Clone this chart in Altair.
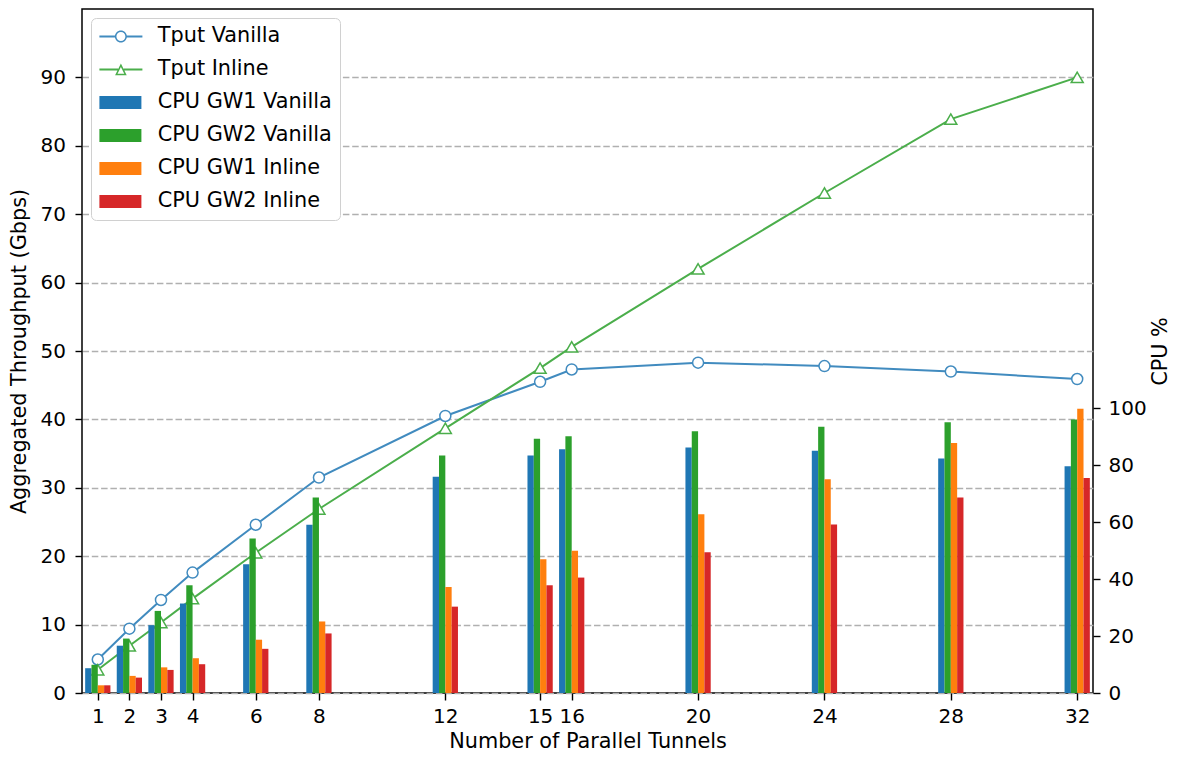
import altair as alt
import pandas as pd

# ---- data ----
tunnels = [1, 2, 3, 4, 6, 8, 12, 15, 16, 20, 24, 28, 32]
tput_vanilla = [4.9, 9.4, 13.6, 17.6, 24.6, 31.5, 40.5, 45.5, 47.3, 48.3, 47.8, 47.0, 45.9]
tput_inline = [3.4, 6.9, 10.3, 13.8, 20.5, 26.9, 38.7, 47.5, 50.6, 62.0, 73.1, 83.9, 90.0]
cpu_gw1_vanilla = [8.7, 16.6, 23.8, 31.4, 45.2, 59.0, 75.9, 83.3, 85.5, 86.1, 85.0, 82.3, 79.6]
cpu_gw2_vanilla = [9.9, 19.1, 28.8, 37.8, 54.2, 68.6, 83.3, 89.2, 90.1, 91.8, 93.4, 95.0, 96.0]
cpu_gw1_inline = [2.7, 6.0, 9.0, 12.2, 18.7, 25.1, 37.2, 46.9, 49.9, 62.7, 75.0, 87.7, 99.7]
cpu_gw2_inline = [2.7, 5.4, 8.1, 10.1, 15.5, 20.9, 30.3, 37.8, 40.5, 49.4, 59.1, 68.6, 75.4]

line_names = ["Tput Vanilla", "Tput Inline"]
bar_names = ["CPU GW1 Vanilla", "CPU GW2 Vanilla", "CPU GW1 Inline", "CPU GW2 Inline"]
x_ticks = [1, 2, 3, 4, 6, 8, 12, 15, 16, 20, 24, 28, 32]
left_ticks = [0, 10, 20, 30, 40, 50, 60, 70, 80, 90]
right_ticks = [0, 20, 40, 60, 80, 100]

line_colors = ["#418bbf", "#4bae4b"]
bar_colors = ["#1f77b4", "#2ca02c", "#ff7f0e", "#d62728"]

# legend handles (custom symbol paths, unit = 10 px at symbol size 400)
legend_paths = [
    "M-1,-0.1H0.56V0.1H-1Z M1.74,-0.1H3.3V0.1H1.74Z "
    "M0.55,0A0.6,0.6 0 1,1 1.75,0A0.6,0.6 0 1,1 0.55,0Z "
    "M0.7,0A0.45,0.45 0 1,0 1.6,0A0.45,0.45 0 1,0 0.7,0Z",
    "M-1,-0.1H0.87V0.1H-1Z M1.43,-0.1H3.3V0.1H1.43Z "
    "M1.15,-0.58L1.73,0.58L0.57,0.58Z "
    "M1.15,-0.245L0.8125,0.43L1.4875,0.43Z",
    "M-1,-0.65H3.2V0.65H-1Z",
    "M-1,-0.65H3.2V0.65H-1Z",
    "M-1,-0.65H3.2V0.65H-1Z",
    "M-1,-0.65H3.2V0.65H-1Z",
]

# ---- tables ----
line_df = pd.concat(
    [pd.DataFrame({"tunnels": tunnels, "tput": v, "series": n})
     for n, v in zip(line_names, [tput_vanilla, tput_inline])],
    ignore_index=True,
)
bar_df = pd.concat(
    [pd.DataFrame({"tunnels": tunnels, "cpu": v, "series": n, "slot": k})
     for k, (n, v) in enumerate(zip(bar_names, [cpu_gw1_vanilla, cpu_gw2_vanilla,
                                                cpu_gw1_inline, cpu_gw2_inline]))],
    ignore_index=True,
)
legend_df = pd.DataFrame({"series": line_names + bar_names})

FONT = "DejaVu Sans"
x_title = "Number of Parallel Tunnels"
x_scale = alt.Scale(domain=[0.5, 32.5], nice=False, zero=False)
x_axis = alt.Axis(values=x_ticks, grid=False, tickSize=7, labelPadding=6.5,
                  labelOverlap=False, labelFlush=False, domain=False, format="d",
                  titleY=54, titleBaseline="alphabetic")
left_scale = alt.Scale(domain=[0, 100], nice=False, zero=True)
left_axis = alt.Axis(values=left_ticks, grid=True, gridDash=[6.5, 2.8], gridColor="#b0b0b0",
                     gridWidth=1.3, tickSize=7, labelPadding=9.5, domain=False,
                     titleX=-63, titleY=342, titleAngle=270, titleBaseline="middle",
                     titleAlign="center")
right_scale = alt.Scale(domain=[0, 240], nice=False, zero=True)
right_axis = alt.Axis(orient="right", values=right_ticks, grid=False, tickSize=7,
                      labelPadding=8, domain=False, titleX=67, titleY=342,
                      titleAngle=270, titleBaseline="middle", titleAlign="center")
color_scale = alt.Scale(domain=line_names + bar_names, range=line_colors + bar_colors)

X = alt.X("tunnels:Q", scale=x_scale, axis=x_axis, title=x_title)
Y = alt.Y("tput:Q", scale=left_scale, axis=left_axis, title="Aggregated Throughput (Gbps)")
C = alt.Color("series:N", scale=color_scale, legend=None)

lines = alt.Chart(line_df).mark_line(strokeWidth=2).encode(x=X, y=Y, color=C)
pts_v = (alt.Chart(line_df).transform_filter(alt.datum.series == "Tput Vanilla")
         .mark_point(shape="circle", size=121, filled=False, fill="white",
                     strokeWidth=1.5, opacity=1)
         .encode(x=X, y=Y, color=C))
pts_i = (alt.Chart(line_df).transform_filter(alt.datum.series == "Tput Inline")
         .mark_point(shape="triangle-up", size=144, filled=False, fill="white",
                     strokeWidth=1.5, opacity=1)
         .encode(x=X, y=Y, color=C))
left = alt.layer(lines, pts_v, pts_i)

bars = (alt.Chart(bar_df)
        .transform_calculate(x0="datum.tunnels + (datum.slot - 2) * 0.2",
                             x1="datum.tunnels + (datum.slot - 1) * 0.2")
        .mark_bar(opacity=1)
        .encode(x=alt.X("x0:Q", scale=x_scale, axis=x_axis, title=x_title),
                x2="x1:Q",
                y=alt.Y("cpu:Q", scale=right_scale, axis=right_axis, title="CPU %"),
                y2=alt.datum(0),
                color=C))

# invisible layer that only carries the combined legend (first, so its legend wins)
legend_layer = (alt.Chart(legend_df)
                .mark_point(filled=True, opacity=0, size=400, strokeWidth=0)
                .encode(color=alt.Color("series:N", scale=color_scale, legend=alt.Legend(title=None)),
                        shape=alt.Shape("series:N",
                                        scale=alt.Scale(domain=line_names + bar_names,
                                                        range=legend_paths),
                                        legend=alt.Legend(title=None))))

chart = (alt.layer(legend_layer, left, bars)
         .resolve_scale(y="independent")
         .properties(width=1011, height=684,
                     autosize=alt.AutoSizeParams(type="none"),
                     padding={"left": 74, "top": 1, "right": 78, "bottom": 59})
         .configure(font=FONT)
         .configure_view(stroke="black", strokeWidth=1.5)
         .configure_axis(labelFont=FONT, titleFont=FONT, labelFontSize=20, titleFontSize=20.8,
                         titleFontWeight="normal", labelColor="black", titleColor="black",
                         tickColor="black", tickWidth=1.4)
         .configure_legend(orient="top-left", offset=9, padding=8, rowPadding=11,
                           labelFont=FONT, labelFontSize=20.8, labelColor="black",
                           labelOffset=38, symbolSize=400, symbolStrokeWidth=0,
                           symbolOpacity=1, fillColor="white", strokeColor="#d0d0d0",
                           cornerRadius=5, labelLimit=400))

chart.save("out.html", embed_options={"renderer": "svg", "actions": False})
